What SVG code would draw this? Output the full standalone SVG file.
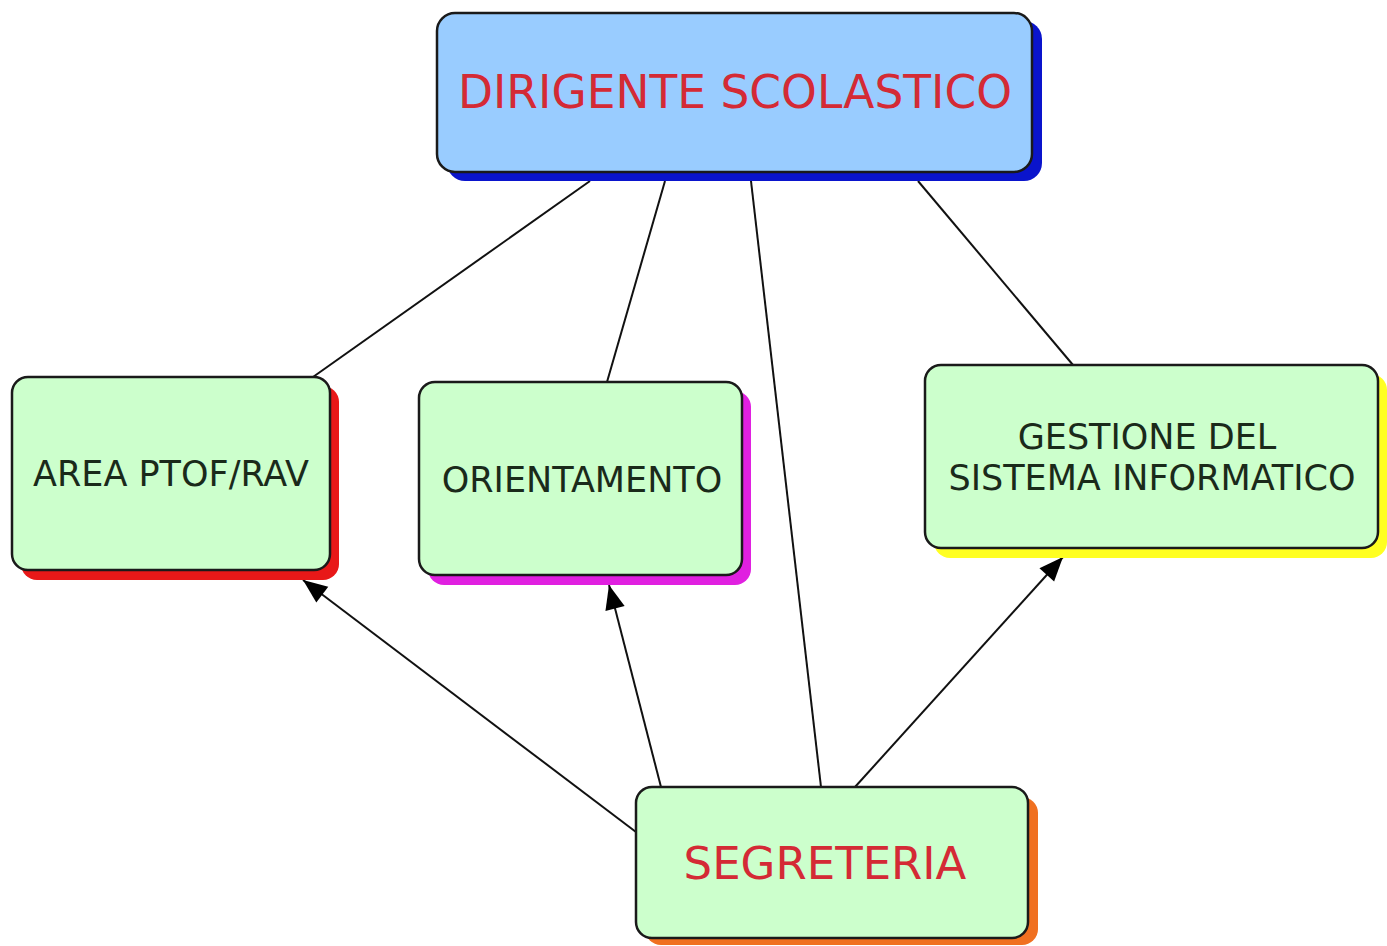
<svg xmlns="http://www.w3.org/2000/svg" width="1387" height="946" viewBox="0 0 1387 946">
<defs>
<style>
.box{stroke:#1a1a1a;stroke-width:2.5}
.green{fill:#ccffcc}
.lbl{font-family:"DejaVu Sans",Verdana,sans-serif;fill:#1a2a1a;text-anchor:middle}
.red{fill:#d42a35}
.conn{stroke:#111;stroke-width:2;fill:none}
</style>
<marker id="arr" viewBox="0 0 10 10" refX="10" refY="5" markerWidth="11" markerHeight="11" markerUnits="userSpaceOnUse" orient="auto" overflow="visible">
<path d="M-12,-4 L10,5 L-12,14 Z" fill="#000"/>
</marker>
</defs>
<rect width="1387" height="946" fill="#fff"/>
<g id="connectors">
<line class="conn" x1="590" y1="181" x2="313" y2="377"/>
<line class="conn" x1="665" y1="181" x2="607" y2="382"/>
<line class="conn" x1="751" y1="181" x2="821" y2="787"/>
<line class="conn" x1="918" y1="181" x2="1073" y2="365"/>
<line class="conn" x1="636" y1="832" x2="303" y2="580" marker-end="url(#arr)"/>
<line class="conn" x1="661" y1="787" x2="609" y2="585" marker-end="url(#arr)"/>
<line class="conn" x1="855" y1="787" x2="1063" y2="557" marker-end="url(#arr)"/>
</g>
<g id="dirigente">
<rect x="447" y="21" width="595" height="160" rx="18" fill="#0a14cc"/>
<rect class="box" x="437" y="13" width="595" height="159" rx="18" fill="#99ccff"/>
<text class="lbl red" x="735" y="108" font-size="45.5">DIRIGENTE SCOLASTICO</text>
</g>
<g id="area">
<rect x="21" y="386" width="318" height="194" rx="16" fill="#e81818"/>
<rect class="box green" x="12" y="377" width="318" height="193" rx="16"/>
<text class="lbl" x="171" y="486" font-size="35">AREA PTOF/RAV</text>
</g>
<g id="orientamento">
<rect x="428" y="391" width="323" height="194" rx="16" fill="#e020e0"/>
<rect class="box green" x="419" y="382" width="323" height="193" rx="16"/>
<text class="lbl" x="582" y="492" font-size="35">ORIENTAMENTO</text>
</g>
<g id="gestione">
<rect x="934" y="374" width="453" height="184" rx="16" fill="#ffff22"/>
<rect class="box green" x="925" y="365" width="453" height="183" rx="16"/>
<text class="lbl" x="1147" y="449" font-size="35">GESTIONE DEL</text>
<text class="lbl" x="1152" y="490" font-size="35">SISTEMA INFORMATICO</text>
</g>
<g id="segreteria">
<rect x="645" y="797" width="393" height="148" rx="16" fill="#f07020"/>
<rect class="box green" x="636" y="787" width="392" height="151" rx="16"/>
<text class="lbl red" x="825" y="879" font-size="45">SEGRETERIA</text>
</g>
</svg>
